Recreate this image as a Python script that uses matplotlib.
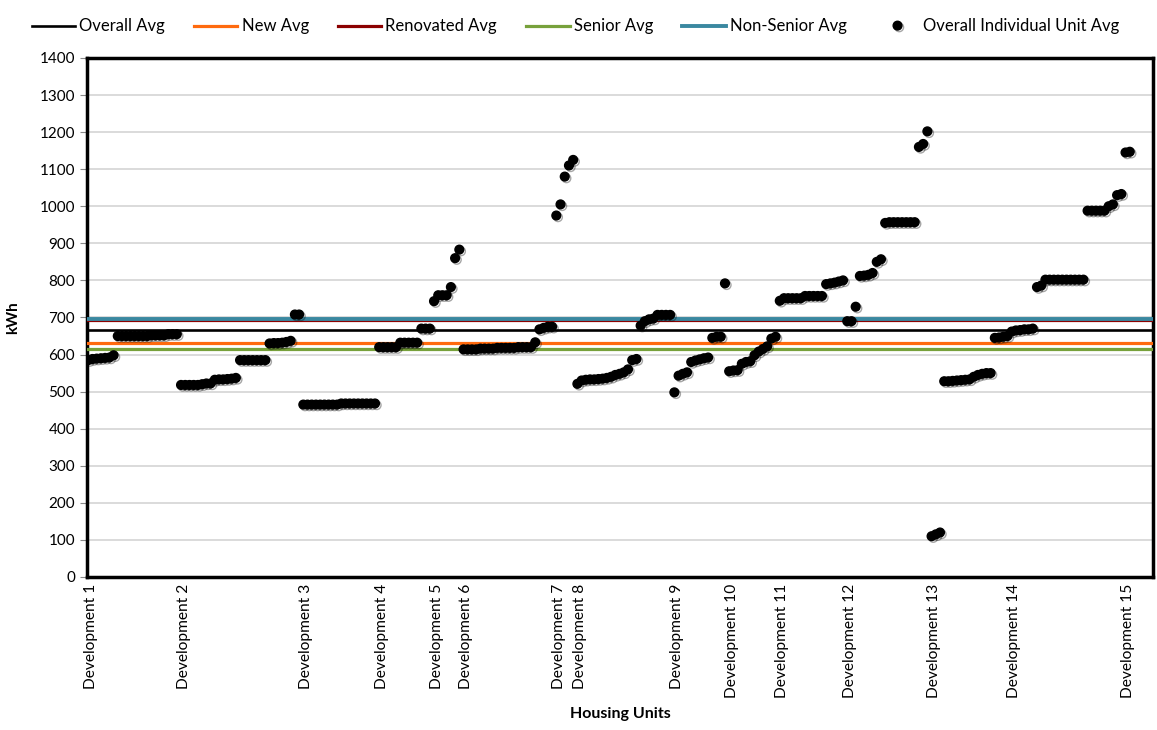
import matplotlib
matplotlib.use("Agg")
import matplotlib.pyplot as plt
import matplotlib.patheffects as pe

plt.rcParams['font.family'] = ['Lato', 'DejaVu Sans']

# average lines (kWh)
overall_avg = 665
new_avg = 630
renovated_avg = 693
senior_avg = 616
non_senior_avg = 695

# individual unit averages, in the order of the housing units on the x axis
dev1 = [585, 588, 589, 590, 591, 592, 598,
        650, 650, 650, 650, 650, 650, 650, 650, 652, 652, 652, 652, 655, 655, 655]
dev2 = [518, 518, 518, 518, 518, 520, 522, 522,
        532, 533, 533, 534, 535, 537,
        585, 585, 585, 585, 585, 585, 585,
        630, 631, 631, 632, 634, 637,
        708, 708]
dev3 = [465, 465, 465, 465, 465, 465, 465, 465, 465,
        468, 468, 468, 468, 468, 468, 468, 468, 468]
dev4 = [620, 620, 620, 620, 620, 632, 632, 632, 632, 632, 670, 670, 670]
dev5 = [744, 760, 760, 760, 782, 860, 883]
dev6 = [614, 614, 614, 614, 616, 616, 616, 616, 618, 618, 618, 618, 618,
        620, 620, 620, 620, 633, 668, 672, 675, 675]
dev7 = [975, 1005, 1080, 1110, 1125]
dev8 = [521, 530, 532, 533, 533, 534, 535, 537, 540, 545, 548, 552, 560,
        585, 588, 678, 690, 695, 697, 707, 707, 707, 707]
dev9 = [498, 543, 548, 552, 580, 584, 587, 590, 592, 645, 648, 648, 792]
dev10 = [555, 557, 558, 575, 580, 582, 598, 608, 615, 622, 643, 648]
dev11 = [745, 752, 752, 752, 752, 752, 758, 758, 758, 758, 758,
         790, 792, 794, 797, 800]
dev12 = [690, 690, 729, 812, 813, 815, 820, 850, 857,
         955, 957, 957, 957, 957, 957, 957, 957, 1160, 1168, 1202]
dev13 = [110, 115, 120, 528, 528, 529, 530, 531, 532, 533,
         540, 545, 548, 550, 550, 645, 646, 648, 650]
dev14 = [662, 665, 666, 668, 668, 670, 782, 786,
         802, 802, 802, 802, 802, 802, 802, 802, 802, 802,
         988, 988, 988, 988, 988, 1000, 1005, 1030, 1033]
dev15 = [1145, 1147]

developments = [dev1, dev2, dev3, dev4, dev5, dev6, dev7, dev8,
                dev9, dev10, dev11, dev12, dev13, dev14, dev15]
dev_names = ['Development %d' % (i + 1) for i in range(len(developments))]

units = []
tick_pos = []
for d in developments:
    tick_pos.append(len(units) + 0.6)
    units.extend(d)
x = list(range(len(units)))

fig = plt.figure(figsize=(11.57, 7.3), dpi=100)
ax = fig.add_axes([0.0752, 0.2096, 0.9213, 0.711])

ax.axhline(overall_avg, color='black', lw=1.9, label='Overall Avg', zorder=3)
ax.axhline(new_avg, color='#FF6A0E', lw=2.3, label='New Avg', zorder=3)
ax.axhline(renovated_avg, color='#8B0000', lw=2.3, label='Renovated Avg', zorder=3)
ax.axhline(senior_avg, color='#77A13B', lw=2.3, label='Senior Avg', zorder=3)
ax.axhline(non_senior_avg, color='#3A88A0', lw=2.8, label='Non-Senior Avg', zorder=3)

ax.plot(x, units, linestyle='none', marker='o', ms=6.3, color='black',
        label='Overall Individual Unit Avg', zorder=4,
        path_effects=[pe.SimpleLineShadow(offset=(1.2, -1.2), alpha=0.35), pe.Normal()])

ax.set_ylim(0, 1400)
ax.set_yticks(range(0, 1401, 100))
ax.set_xlim(-0.3, 252.5)
ax.set_xticks(tick_pos)
ax.set_xticklabels(dev_names, rotation=90, fontsize=11.2)
ax.tick_params(axis='x', length=0, pad=5)
ax.tick_params(axis='y', labelsize=11, length=5, direction='out', color='#888888')
ax.yaxis.grid(True, color='#d4d4d4', lw=1.2)
ax.set_axisbelow(True)
for s in ax.spines.values():
    s.set_color('black')
    s.set_linewidth(2.5)

ax.set_ylabel('kWh', fontsize=11, fontweight='bold', labelpad=14)
ax.set_xlabel('Housing Units', fontsize=11.5, fontweight='bold', labelpad=6)

ax.legend(loc='upper left', bbox_to_anchor=(-0.066, 1.105), ncol=6, frameon=False,
          fontsize=12, handlelength=2.6, handletextpad=0.25, columnspacing=1.75,
          markerscale=1.0)

fig.savefig('out.png', dpi=100)
